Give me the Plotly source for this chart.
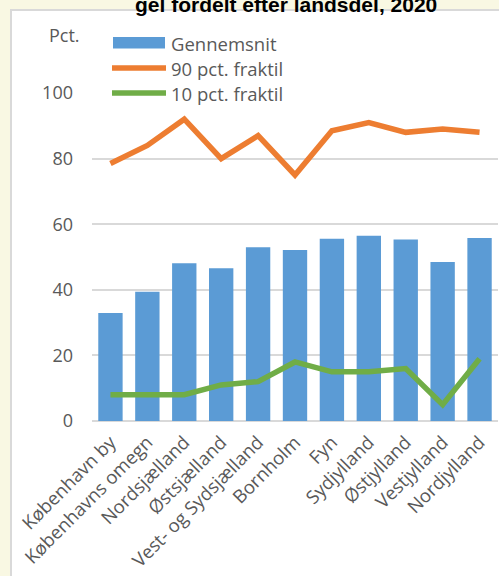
import plotly.graph_objects as go

# Data
regions = ["København by", "Københavns omegn", "Nordsjælland", "Østsjælland",
           "Vest- og Sydsjælland", "Bornholm", "Fyn", "Sydjylland",
           "Østjylland", "Vestjylland", "Nordjylland"]
gennemsnit = [32.9, 39.4, 48.1, 46.6, 53.0, 52.1, 55.6, 56.5, 55.3, 48.5, 55.8]
fraktil_90 = [78.5, 84, 92, 80, 87, 75, 88.5, 91, 88, 89, 88]
fraktil_10 = [8, 8, 8, 11, 12, 18, 15, 15, 16, 5, 19]
y_ticks = [0, 20, 40, 60, 80, 100]

BLUE = "#5B9BD5"
ORANGE = "#ED7D31"
GREEN = "#70AD47"
TEXT = "#595959"
GRID = "#D9D9D9"
CREAM = "#F9F8E3"
FONT = "Open Sans"

W, H = 499, 576
L, R, T, B = 92, 1, 93, 155
PW, PH = W - L - R, H - T - B


def px(x):
    return (x - L) / PW


def py(y):
    return (H - B - y) / PH


fig = go.Figure()
fig.add_trace(go.Bar(x=regions, y=gennemsnit, name="Gennemsnit",
                     marker=dict(color=BLUE, line=dict(width=0))))
fig.add_trace(go.Scatter(x=regions, y=fraktil_90, name="90 pct. fraktil",
                         mode="lines", line=dict(color=ORANGE, width=5.5)))
fig.add_trace(go.Scatter(x=regions, y=fraktil_10, name="10 pct. fraktil",
                         mode="lines", line=dict(color=GREEN, width=5.5)))

shapes = [
    # frame around the chart area
    dict(type="rect", xref="paper", yref="paper", x0=px(-5), x1=px(10), y0=py(H + 5), y1=py(-5),
         fillcolor=CREAM, line=dict(width=0), layer="below"),
    dict(type="rect", xref="paper", yref="paper", x0=px(-5), x1=px(W + 5), y0=py(9), y1=py(-5),
         fillcolor=CREAM, line=dict(width=0), layer="below"),
    dict(type="line", xref="paper", yref="paper", x0=px(11), x1=px(11), y0=py(10), y1=py(H + 5),
         line=dict(color=GRID, width=2)),
    dict(type="line", xref="paper", yref="paper", x0=px(10), x1=px(W + 5), y0=py(10), y1=py(10),
         line=dict(color=GRID, width=2)),
    # legend keys
    dict(type="rect", xref="paper", yref="paper", x0=px(113), x1=px(165), y0=py(48.5), y1=py(37),
         fillcolor=BLUE, line=dict(width=0)),
    dict(type="line", xref="paper", yref="paper", x0=px(112), x1=px(166), y0=py(68), y1=py(68),
         line=dict(color=ORANGE, width=5.5)),
    dict(type="line", xref="paper", yref="paper", x0=px(112), x1=px(166), y0=py(93), y1=py(93),
         line=dict(color=GREEN, width=5.5)),
]

annotations = [
    dict(text="<b>gel fordelt efter landsdel, 2020</b>", xref="paper", yref="paper",
         x=px(286), y=py(4), xanchor="center", yanchor="middle", showarrow=False,
         font=dict(family="Liberation Sans", size=21, color="#000000")),
    dict(text="Pct.", xref="paper", yref="paper", x=px(64), y=py(35),
         xanchor="center", yanchor="middle", showarrow=False,
         font=dict(family=FONT, size=18, color=TEXT)),
]
for label, yy in [("Gennemsnit", 43), ("90 pct. fraktil", 68), ("10 pct. fraktil", 93)]:
    annotations.append(dict(text=label, xref="paper", yref="paper", x=px(169), y=py(yy),
                            xanchor="left", yanchor="middle", showarrow=False,
                            font=dict(family=FONT, size=18.5, color=TEXT)))

fig.update_layout(
    width=W, height=H,
    margin=dict(l=L, r=R, t=T, b=B, pad=0, autoexpand=False),
    paper_bgcolor="white", plot_bgcolor="white",
    showlegend=False, bargap=0.34,
    font=dict(family=FONT, size=18, color=TEXT),
    shapes=shapes, annotations=annotations,
    xaxis=dict(tickangle=-45, showgrid=False, showline=False, ticks="",
               ticklabelstandoff=6, automargin=False,
               tickfont=dict(family=FONT, size=18.5, color=TEXT), fixedrange=True),
    yaxis=dict(range=[0, 100], tickvals=y_ticks, showgrid=True, gridcolor=GRID, gridwidth=1.5,
               zeroline=True, zerolinecolor=GRID, zerolinewidth=1.5, showline=False,
               ticks="", ticklabelstandoff=18, automargin=False,
               tickfont=dict(family=FONT, size=18, color=TEXT), fixedrange=True),
)

fig.write_html("out.html")
